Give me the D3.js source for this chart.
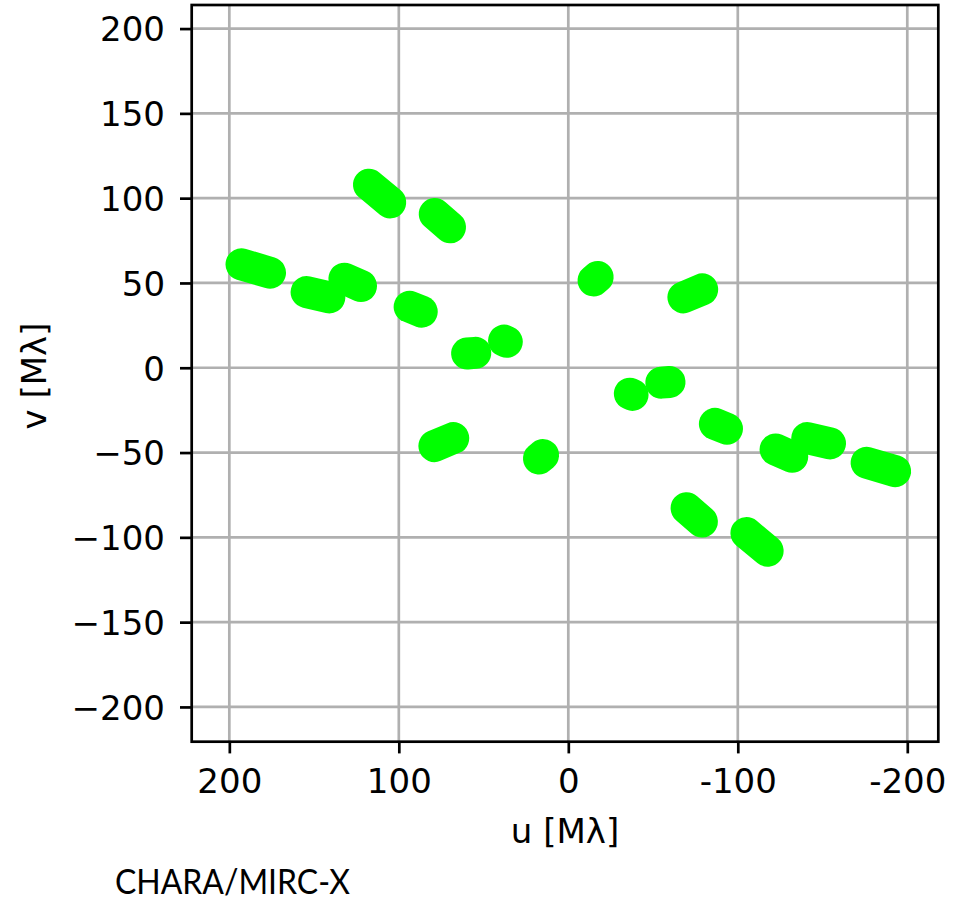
<!DOCTYPE html>
<html>
<head>
<meta charset="utf-8">
<script src="https://cdn.jsdelivr.net/npm/d3@7"></script>
<style>
  html, body { margin: 0; padding: 0; background: #ffffff; }
  svg { display: block; }
</style>
</head>
<body>
<script>
// uv tracks per baseline (Mλ): start and end of the spectral sweep
const uStart = [192.8, 154.4, 132.1, 117.6, 78.8, 93.6, 59.7, 37.9, -14.9, -67.9];
const vStart = [61.0, 44.6, 52.5, 107.9, 90.7, 36.0, 8.4, 16.0, 51.5, 41.5];
const uEnd   = [176.0, 141.0, 122.3, 105.1, 69.8, 86.5, 54.9, 36.3, -17.3, -79.0];
const vEnd   = [56.0, 41.5, 48.2, 97.5, 82.8, 33.1, 8.8, 15.3, 53.5, 46.2];

const uTicks = [200, 100, 0, -100, -200];
const vTicks = [-200, -150, -100, -50, 0, 50, 100, 150, 200];

const W = 953, H = 901;
const plot = { left: 191.7, right: 938.3, top: 5, bottom: 741.7 };
const FONT = "'DejaVu Sans', sans-serif";
const FS = 34;

const x = d3.scaleLinear().domain([222.2, -218.3]).range([plot.left, plot.right]);
const y = d3.scaleLinear().domain([-220.5, 213.9]).range([plot.bottom, plot.top]);

const svg = d3.select("body").append("svg")
  .attr("width", W).attr("height", H)
  .attr("viewBox", `0 0 ${W} ${H}`);

// grid
const grid = svg.append("g").attr("stroke", "#b0b0b0").attr("stroke-width", 2.7);
grid.selectAll("line.gx").data(uTicks).join("line")
  .attr("class", "gx")
  .attr("x1", d => x(d)).attr("x2", d => x(d))
  .attr("y1", plot.top).attr("y2", plot.bottom);
grid.selectAll("line.gy").data(vTicks).join("line")
  .attr("class", "gy")
  .attr("x1", plot.left).attr("x2", plot.right)
  .attr("y1", d => y(d)).attr("y2", d => y(d));

// baseline tracks and their conjugates
const tracks = [];
uStart.forEach((u, i) => {
  tracks.push([[u, vStart[i]], [uEnd[i], vEnd[i]]]);
  tracks.push([[-u, -vStart[i]], [-uEnd[i], -vEnd[i]]]);
});
const line = d3.line().x(d => x(d[0])).y(d => y(d[1]));
svg.append("g")
  .selectAll("path").data(tracks).join("path")
  .attr("d", line)
  .attr("fill", "none")
  .attr("stroke", "#00ff00")
  .attr("stroke-width", 32)
  .attr("stroke-linecap", "round")
  .attr("stroke-linejoin", "round");

// frame
svg.append("rect")
  .attr("x", plot.left).attr("y", plot.top)
  .attr("width", plot.right - plot.left).attr("height", plot.bottom - plot.top)
  .attr("fill", "none").attr("stroke", "#000").attr("stroke-width", 2.7);

// axes
const xAxis = d3.axisBottom(x).tickValues(uTicks).tickSize(11.7).tickPadding(15)
  .tickFormat(d => String(d));
const gx = svg.append("g").attr("transform", `translate(0,${plot.bottom})`).call(xAxis);
const yAxis = d3.axisLeft(y).tickValues(vTicks).tickSize(11.7).tickPadding(15)
  .tickFormat(d3.format("d"));
const gy = svg.append("g").attr("transform", `translate(${plot.left},0)`).call(yAxis);

[gx, gy].forEach(g => {
  g.select(".domain").remove();
  g.selectAll(".tick line").attr("stroke", "#000").attr("stroke-width", 2.7);
  g.selectAll(".tick text")
    .attr("fill", "#000")
    .style("font-family", FONT)
    .style("font-size", FS + "px");
});
gy.selectAll(".tick text").attr("dy", "0.36em");

// axis labels
svg.append("text")
  .attr("x", 565).attr("y", 843)
  .attr("text-anchor", "middle")
  .style("font-family", FONT).style("font-size", FS + "px")
  .text("u [Mλ]");

svg.append("text")
  .attr("transform", "translate(46,376) rotate(-90)")
  .attr("text-anchor", "middle")
  .style("font-family", FONT).style("font-size", FS + "px")
  .text("v [Mλ]");

// instrument tag
svg.append("text")
  .attr("x", 115).attr("y", 894)
  .attr("textLength", 235).attr("lengthAdjust", "spacingAndGlyphs")
  .style("font-family", "Lato, 'Open Sans', sans-serif").style("font-size", "35px")
  .text("CHARA/MIRC-X");
</script>
</body>
</html>
